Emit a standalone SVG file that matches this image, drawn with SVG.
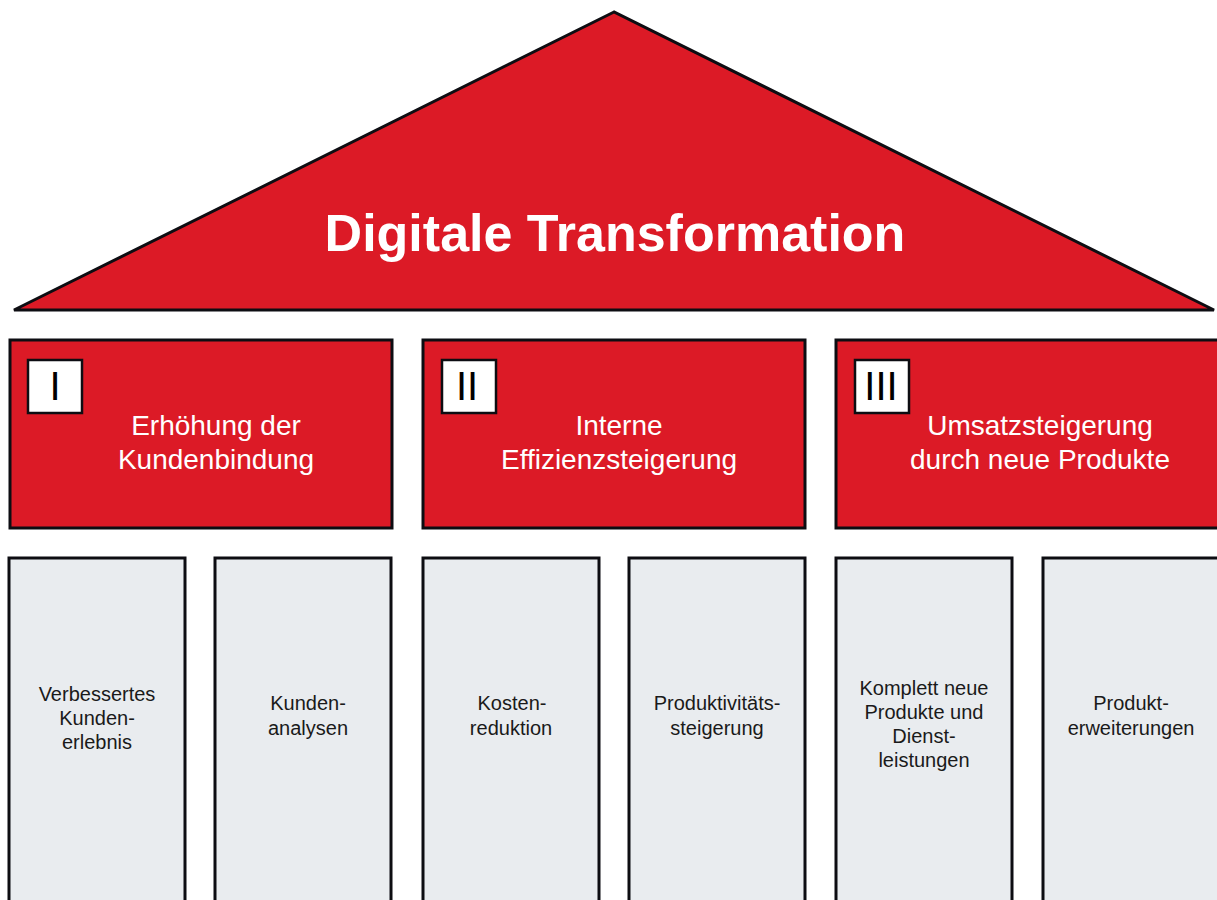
<svg xmlns="http://www.w3.org/2000/svg" width="1217" height="900" viewBox="0 0 1217 900">
<style>
.red{fill:#dc1a26;stroke:#0d0d12;stroke-width:3}
.gray{fill:#e9ecef;stroke:#0d0d12;stroke-width:3}
.num{fill:#ffffff;stroke:#0d0d12;stroke-width:2.5}
.t{font-family:"Liberation Sans",Arial,sans-serif}
.title{font-size:52px;font-weight:bold;fill:#ffffff}
.rt{font-size:28px;fill:#ffffff}
.nt{font-size:40px;fill:#000000}
.gt{font-size:20px;fill:#1a1a1a}
</style>
<rect width="1217" height="900" fill="#ffffff"/>
<g id="roof">
<polygon class="red" points="614,12 14,310 1214,310"/>
<text class="t title" x="615" y="251" text-anchor="middle">Digitale Transformation</text>
</g>
<g id="pillar1">
<rect class="red" x="10" y="340" width="382" height="188"/>
<rect class="num" x="28" y="360" width="54" height="53"/>
<text class="t nt" x="55" y="400" text-anchor="middle">I</text>
<text class="t rt" text-anchor="middle"><tspan x="216" y="435">Erhöhung der</tspan><tspan x="216" y="469">Kundenbindung</tspan></text>
</g>
<g id="pillar2">
<rect class="red" x="423" y="340" width="382" height="188"/>
<rect class="num" x="442" y="360" width="54" height="53"/>
<text class="t nt" x="467" y="400" text-anchor="middle">II</text>
<text class="t rt" text-anchor="middle"><tspan x="619" y="435">Interne</tspan><tspan x="619" y="469">Effizienzsteigerung</tspan></text>
</g>
<g id="pillar3">
<rect class="red" x="836" y="340" width="384" height="188"/>
<rect class="num" x="855" y="360" width="54" height="53"/>
<text class="t nt" x="881" y="400" text-anchor="middle">III</text>
<text class="t rt" text-anchor="middle"><tspan x="1040" y="435">Umsatzsteigerung</tspan><tspan x="1040" y="469">durch neue Produkte</tspan></text>
</g>
<g id="sub1">
<rect class="gray" x="9" y="558" width="176" height="350"/>
<text class="t gt" text-anchor="middle"><tspan x="97" y="701">Verbessertes</tspan><tspan x="97" y="725">Kunden-</tspan><tspan x="97" y="749">erlebnis</tspan></text>
</g>
<g id="sub2">
<rect class="gray" x="215" y="558" width="176" height="350"/>
<text class="t gt" text-anchor="middle"><tspan x="308" y="710">Kunden-</tspan><tspan x="308" y="735">analysen</tspan></text>
</g>
<g id="sub3">
<rect class="gray" x="423" y="558" width="176" height="350"/>
<text class="t gt" text-anchor="middle"><tspan x="512" y="710">Kosten-</tspan><tspan x="511" y="735">reduktion</tspan></text>
</g>
<g id="sub4">
<rect class="gray" x="629" y="558" width="176" height="350"/>
<text class="t gt" text-anchor="middle"><tspan x="717" y="710">Produktivitäts-</tspan><tspan x="717" y="735">steigerung</tspan></text>
</g>
<g id="sub5">
<rect class="gray" x="836" y="558" width="176" height="350"/>
<text class="t gt" text-anchor="middle"><tspan x="924" y="695">Komplett neue</tspan><tspan x="924" y="719">Produkte und</tspan><tspan x="924" y="743">Dienst-</tspan><tspan x="924" y="767">leistungen</tspan></text>
</g>
<g id="sub6">
<rect class="gray" x="1043" y="558" width="177" height="350"/>
<text class="t gt" text-anchor="middle"><tspan x="1131" y="710">Produkt-</tspan><tspan x="1131" y="735">erweiterungen</tspan></text>
</g>
<g id="connectors"></g>
</svg>
